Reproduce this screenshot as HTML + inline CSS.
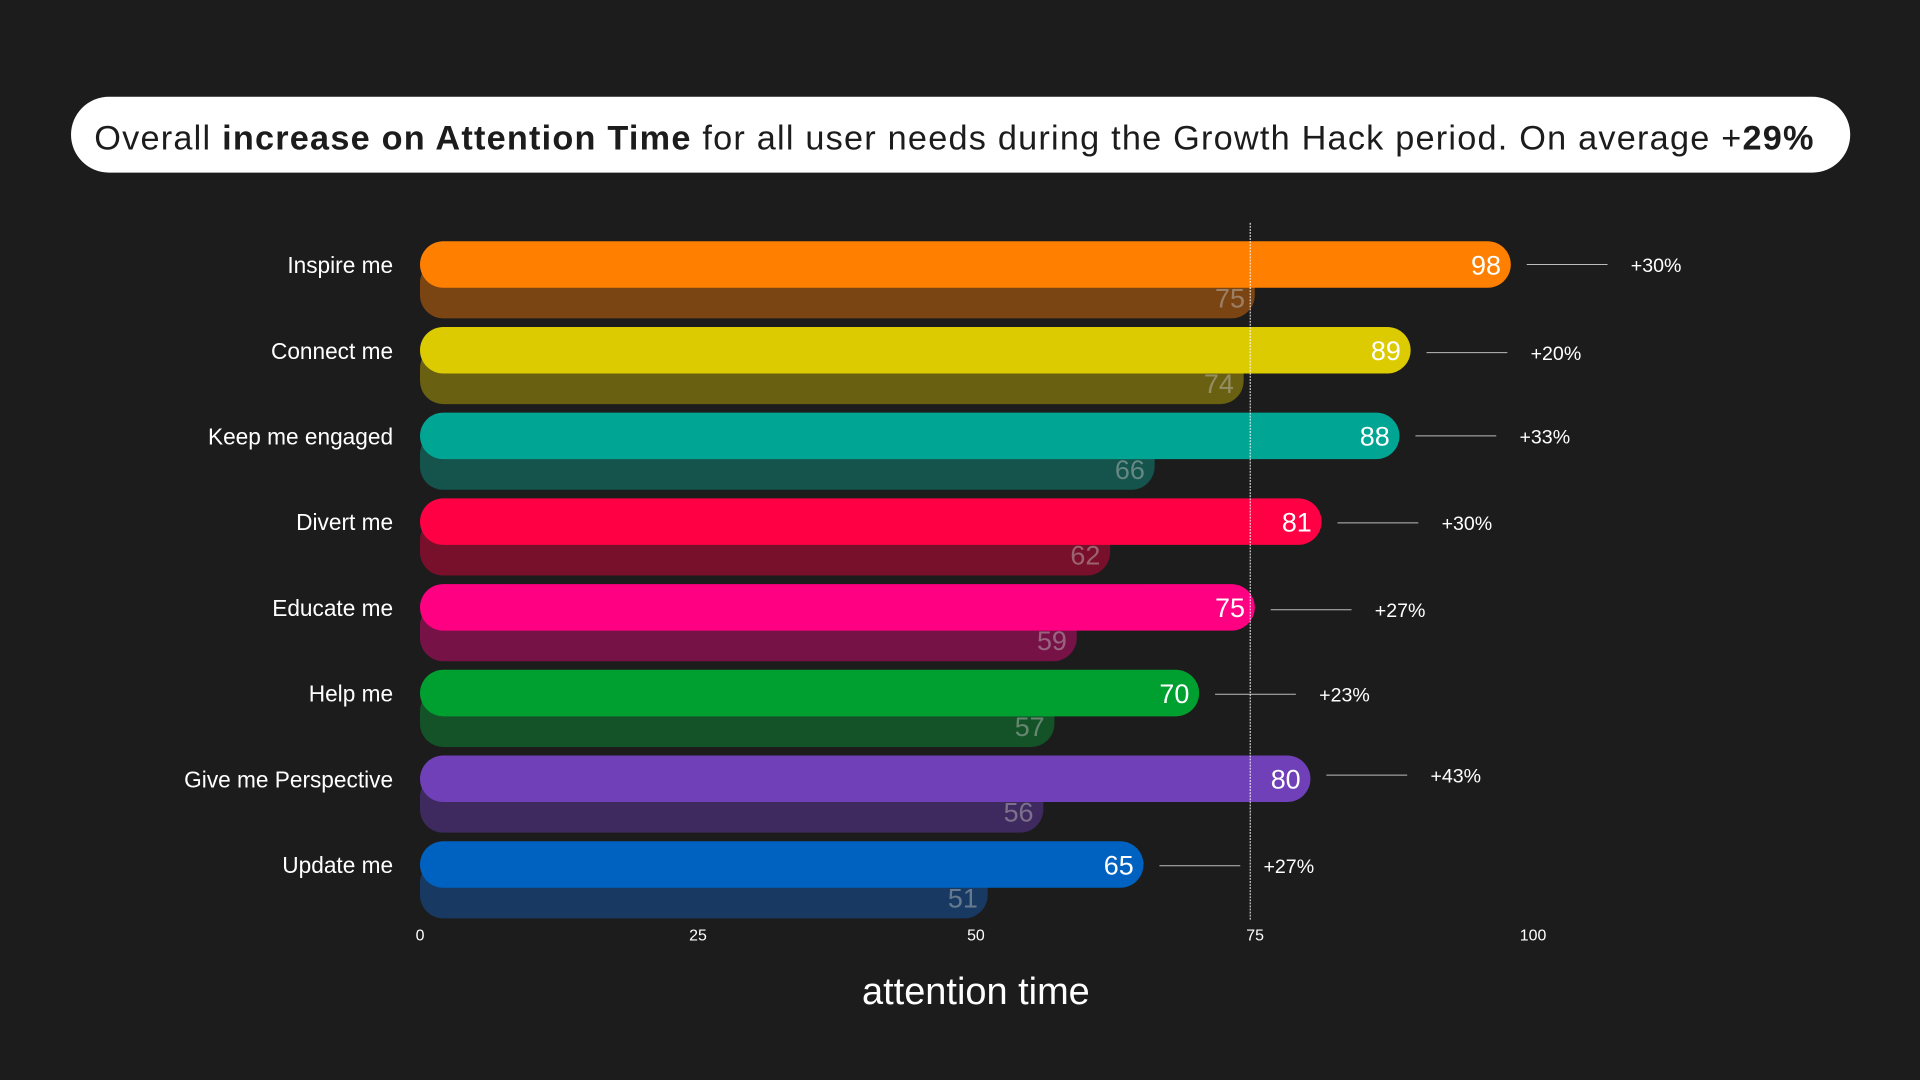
<!DOCTYPE html>
<html><head><meta charset="utf-8"><style>
html,body{margin:0;padding:0;background:#1d1c1d;}
svg{display:block}
text{font-family:"Liberation Sans","DejaVu Sans",sans-serif;}
</style></head><body>
<svg width="1920" height="1080" viewBox="0 0 1568 882" preserveAspectRatio="none">
<rect width="1568" height="882" fill="#1d1c1d"/>
<rect x="58" y="79" width="1453" height="62" rx="31" fill="#ffffff"/>
<text x="77" y="122" textLength="1404" lengthAdjust="spacing" font-size="28" fill="#1d1c1d">Overall <tspan font-weight="bold">increase on Attention Time</tspan> for all user needs during the Growth Hack period. On average +<tspan font-weight="bold">29%</tspan></text>
<g id="bars"></g>
<line x1="1021" y1="182" x2="1021" y2="752" stroke="#ffffff" stroke-width="0.8" stroke-dasharray="1.5,1"/>
<g font-size="13" fill="#fff" text-anchor="middle">
<text x="343" y="768">0</text><text x="570" y="768">25</text><text x="797" y="768">50</text><text x="1025" y="768">75</text><text x="1252" y="768">100</text>
</g>
<text x="797" y="820" text-anchor="middle" font-size="31" fill="#fff">attention time</text>
</svg>
<script>
var d=[["Inspire me",98,75,"+30%","#ff8000","#7a4413",216],
["Connect me",89,74,"+20%","#dccb00","#6a6012",288],
["Keep me engaged",88,66,"+33%","#00a594","#14544c",356],
["Divert me",81,62,"+30%","#ff0044","#78102c",427],
["Educate me",75,59,"+27%","#ff0082","#761246",498],
["Help me",70,57,"+23%","#00a030","#145228",567],
["Give me Perspective",80,56,"+43%","#7040b8","#3e2a5e",633],
["Update me",65,51,"+27%","#0062c0","#183a62",707]];
var s="";
d.forEach(function(r,i){
 var c=216+i*70,u=9.09,x0=343,e1=x0+r[1]*u,e2=x0+r[2]*u;
 s+='<rect x="'+x0+'" y="'+(c-4)+'" width="'+(e2-x0)+'" height="48" rx="19" fill="'+r[5]+'"/>';
 s+='<rect x="'+x0+'" y="'+(c-19)+'" width="'+(e1-x0)+'" height="38" rx="19" fill="'+r[4]+'"/>';
 s+='<text x="'+(e1-8)+'" y="'+(c+8)+'" text-anchor="end" font-size="22" fill="#fff">'+r[1]+'</text>';
 s+='<text x="'+(e2-8)+'" y="'+(c+35)+'" text-anchor="end" font-size="22" fill="rgba(200,200,200,0.45)">'+r[2]+'</text>';
 s+='<text x="321" y="'+(c+7)+'" text-anchor="end" font-size="18.5" fill="#fff">'+r[0]+'</text>';
 s+='<line x1="'+(e1+13)+'" y1="'+r[6]+'" x2="'+(e1+79)+'" y2="'+r[6]+'" stroke="#bbb" stroke-width="0.8"/>';
 s+='<text x="'+(e1+98)+'" y="'+(r[6]+6)+'" font-size="16" fill="#fff">'+r[3]+'</text>';
});
document.getElementById("bars").innerHTML=s;
</script>
</body></html>
